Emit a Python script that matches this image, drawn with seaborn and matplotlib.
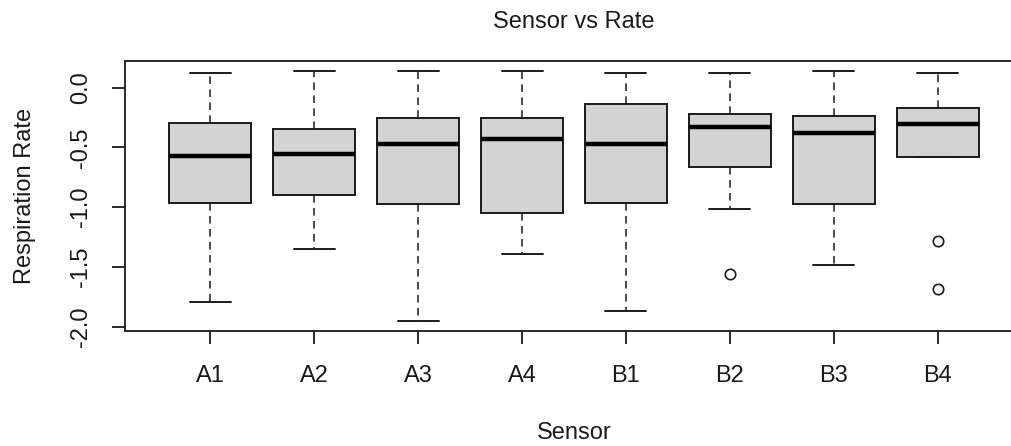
import numpy as np
import pandas as pd
import matplotlib
matplotlib.use("Agg")
import matplotlib.pyplot as plt
import seaborn as sns

# ---- data (five-number summaries) ----
sensors = ["A1", "A2", "A3", "A4", "B1", "B2", "B3", "B4"]
upper_whisker = [0.125, 0.14, 0.14, 0.14, 0.125, 0.125, 0.14, 0.125]
q3 = [-0.293, -0.346, -0.256, -0.256, -0.134, -0.220, -0.234, -0.172]
median = [-0.569, -0.555, -0.469, -0.432, -0.469, -0.332, -0.379, -0.304]
q1 = [-0.962, -0.900, -0.976, -1.051, -0.965, -0.666, -0.976, -0.580]
lower_whisker = [-1.790, -1.350, -1.952, -1.394, -1.866, -1.012, -1.484, -0.580]
outlier_sensor = ["B2", "B4", "B4"]
outlier_value = [-1.559, -1.285, -1.682]
y_ticks = [-2.0, -1.5, -1.0, -0.5, 0.0]
y_tick_labels = ["-2.0", "-1.5", "-1.0", "-0.5", "0.0"]

rows = []
for s, lo, a, m, b, hi in zip(sensors, lower_whisker, q1, median, q3, upper_whisker):
    for v in (lo, a, m, b, hi):
        rows.append({"Sensor": s, "Rate": v})
df = pd.DataFrame(rows)
out_df = pd.DataFrame({"Sensor": outlier_sensor, "Rate": outlier_value})

sns.set_style("ticks")
plt.rcParams["font.family"] = ["Liberation Sans", "DejaVu Sans"]

fig = plt.figure(figsize=(10.11, 4.46), dpi=100)
ax = fig.add_axes([125 / 1011, 115 / 446, 898 / 1011, 270 / 446])

line_col = "#1a1a1a"
sns.boxplot(
    data=df, x="Sensor", y="Rate", order=sensors, ax=ax,
    whis=np.inf, width=0.79, color="#D3D3D3", linecolor=line_col,
    linewidth=1.4, saturation=1,
    medianprops=dict(linewidth=3.2, color="black"),
    whiskerprops=dict(linestyle=(0, (5, 3.5)), linewidth=1.1),
    capprops=dict(linewidth=1.4),
)
sns.stripplot(
    data=out_df, x="Sensor", y="Rate", order=sensors, ax=ax,
    jitter=False, color="white", edgecolor=line_col, linewidth=1.2, size=7.5,
)

ax.set_xlim(-0.82, 7.82)
ax.set_ylim(-2.036, 0.224)
ax.set_yticks(y_ticks)
ax.set_yticklabels(y_tick_labels, rotation=90, va="center")
for sp in ax.spines.values():
    sp.set_visible(True)
    sp.set_linewidth(1.3)
    sp.set_color(line_col)
ax.tick_params(axis="both", length=9.5, width=1.3, color=line_col, labelsize=17, labelcolor="#1a1a1a")
ax.tick_params(axis="x", pad=15)
ax.tick_params(axis="y", pad=14)
ax.set_xlabel("Sensor", fontsize=17, labelpad=25, color="#1a1a1a")
ax.set_ylabel("Respiration Rate", fontsize=17, labelpad=25, color="#1a1a1a")
ax.set_title("Sensor vs Rate", fontsize=17, pad=24, color="#1a1a1a")
ax.grid(False)

fig.savefig("out.png", dpi=100)
